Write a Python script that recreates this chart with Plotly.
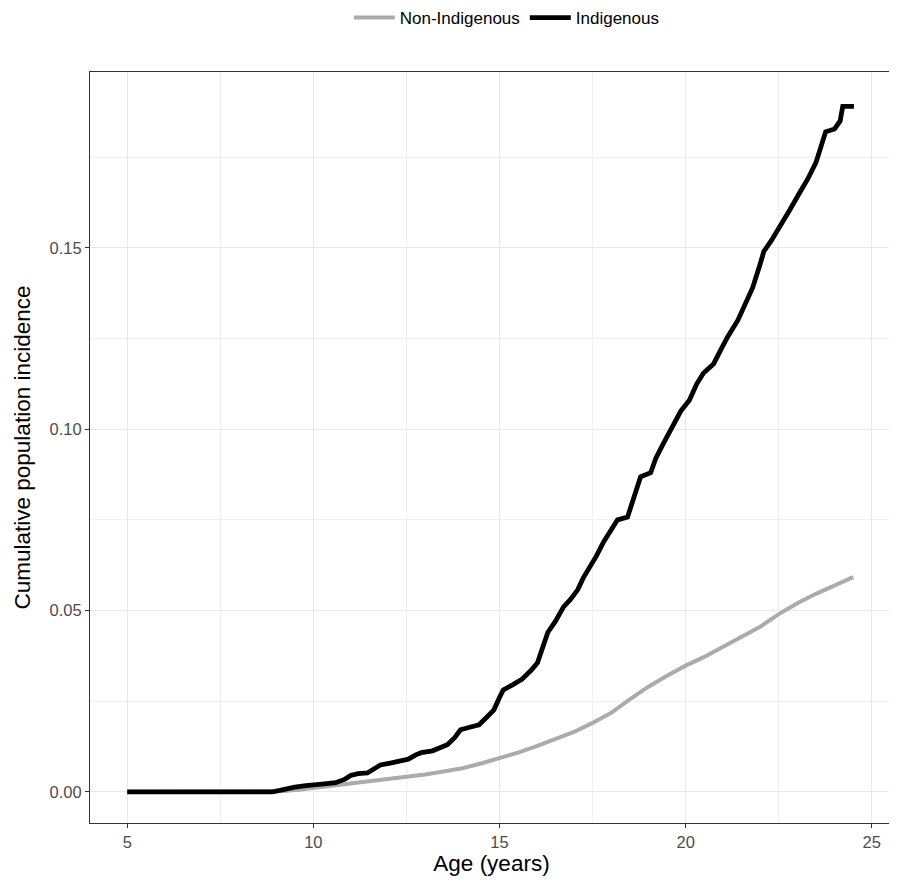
import plotly.graph_objects as go

# Indigenous cumulative incidence
indig_age = [5.0, 8.9, 9.1, 9.3, 9.5, 9.8, 10.0, 10.3, 10.6, 10.85, 11.0, 11.2, 11.45, 11.65, 11.8,
             12.1, 12.35, 12.55, 12.75, 12.9, 13.2, 13.45, 13.6, 13.8, 13.95, 14.2, 14.45, 14.65,
             14.85, 15.0, 15.1, 15.35, 15.6, 15.85, 16.02, 16.15, 16.3, 16.5, 16.72, 16.9, 17.1,
             17.25, 17.4, 17.6, 17.8, 18.0, 18.17, 18.44, 18.6, 18.79, 19.06, 19.2, 19.4, 19.6,
             19.87, 20.1, 20.3, 20.48, 20.75, 20.95, 21.13, 21.4, 21.6, 21.8, 22.0, 22.1, 22.3,
             22.55, 22.8, 23.05, 23.28, 23.5, 23.65, 23.76, 24.0, 24.15, 24.22, 24.52]
indig_inc = [0.0, 0.0, 0.0004, 0.0009, 0.0013, 0.0017, 0.002, 0.0022, 0.0025, 0.0035, 0.0045, 0.005,
             0.0052, 0.0065, 0.0074, 0.008, 0.0084, 0.009, 0.0102, 0.0108, 0.0113, 0.0122, 0.013,
             0.015, 0.0171, 0.0178, 0.0185, 0.0205, 0.0226, 0.026, 0.0281, 0.0295, 0.031, 0.0335,
             0.0356, 0.0395, 0.044, 0.047, 0.051, 0.053, 0.0557, 0.059, 0.0615, 0.065, 0.069,
             0.0725, 0.075, 0.0758, 0.081, 0.0869, 0.088, 0.092, 0.096, 0.0998, 0.105, 0.108,
             0.1125, 0.1155, 0.118, 0.122, 0.1255, 0.13, 0.1345, 0.139, 0.1455, 0.149, 0.152,
             0.156, 0.1605, 0.165, 0.169, 0.1735, 0.178, 0.182, 0.1828, 0.185, 0.189, 0.189]

# Non-Indigenous cumulative incidence
nonind_age = [5.0, 8.8, 9.2, 9.6, 10.0, 10.5, 11.0, 11.5, 12.0, 12.5, 13.0, 13.5, 14.0, 14.5, 15.0,
              15.5, 16.0, 16.5, 17.0, 17.5, 18.0, 18.5, 19.0, 19.5, 20.0, 20.5, 21.0, 21.5, 22.0,
              22.5, 23.0, 23.5, 24.0, 24.5]
nonind_inc = [0.0, 0.0, 0.0002, 0.0006, 0.0011, 0.0016, 0.0021, 0.0028, 0.0034, 0.0040, 0.0048,
              0.0056, 0.0065, 0.0078, 0.0092, 0.0108, 0.0126, 0.0146, 0.0165, 0.019, 0.0218,
              0.0255, 0.029, 0.032, 0.0348, 0.0372, 0.040, 0.0425, 0.0455, 0.049, 0.052, 0.0546,
              0.057, 0.0592]

x_ticks = [5, 10, 15, 20, 25]
y_ticks = [0.0, 0.05, 0.10, 0.15]
y_tick_labels = ["0.00", "0.05", "0.10", "0.15"]

FONT = "Liberation Sans, Arial, Helvetica"

fig = go.Figure()
fig.add_trace(go.Scatter(x=nonind_age, y=nonind_inc, mode="lines", name="Non-Indigenous",
                         line=dict(color="#ABABAB", width=4)))
fig.add_trace(go.Scatter(x=indig_age, y=indig_inc, mode="lines", name="Indigenous",
                         line=dict(color="#000000", width=4.8)))

axis_common = dict(showline=True, mirror=True, linecolor="#333333", linewidth=1,
                   gridcolor="#E8E8E8", gridwidth=1.2, zeroline=False, automargin=False,
                   ticks="outside", ticklen=4, tickcolor="#333333",
                   tickfont=dict(family=FONT, size=16.5, color="#4D4D4D"))

fig.update_xaxes(range=[4.0, 25.57], tickvals=x_ticks,
                 title=dict(text="Age (years)", font=dict(family=FONT, size=22.5, color="black"), standoff=3),
                 minor=dict(dtick=2.5, tick0=0, showgrid=True, gridcolor="#F0F0F0", gridwidth=0.8),
                 **axis_common)
fig.update_yaxes(range=[-0.0086, 0.1985], tickvals=y_ticks, ticktext=y_tick_labels,
                 title=dict(text="Cumulative population incidence", font=dict(family=FONT, size=22.5, color="black"), standoff=12),
                 minor=dict(dtick=0.025, tick0=0, showgrid=True, gridcolor="#F0F0F0", gridwidth=0.8),
                 **axis_common)

fig.update_layout(
    width=889, height=876,
    margin=dict(l=82, r=4, t=64, b=61),
    plot_bgcolor="white", paper_bgcolor="white",
    font=dict(family=FONT, size=16.5, color="black"),
    legend=dict(orientation="h", x=0.519, xanchor="center", xref="paper",
                y=1 - 10 / 876, yref="container", yanchor="middle",
                itemwidth=41, font=dict(size=17), traceorder="normal"),
    showlegend=True,
)

fig.write_html("out.html")
